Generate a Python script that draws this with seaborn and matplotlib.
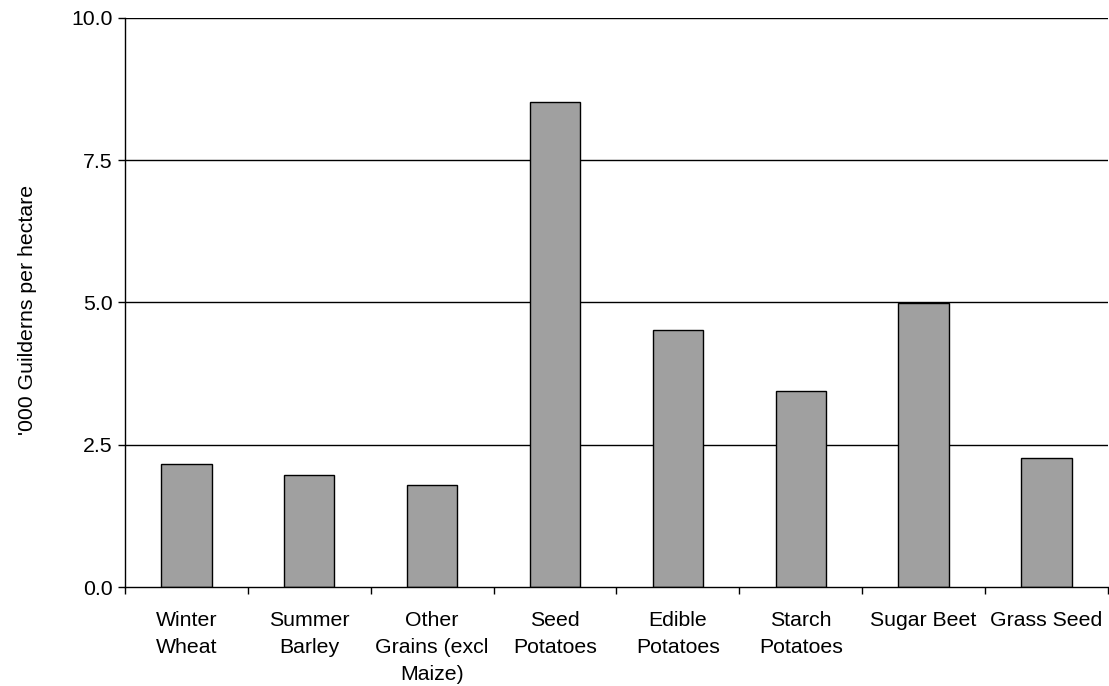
import matplotlib
matplotlib.use("Agg")
import matplotlib.pyplot as plt
import seaborn as sns
import pandas as pd
import numpy as np
from matplotlib.ticker import FixedLocator

categories = ["Winter\nWheat", "Summer\nBarley", "Other\nGrains (excl\nMaize)", "Seed\nPotatoes",
              "Edible\nPotatoes", "Starch\nPotatoes", "Sugar Beet", "Grass Seed"]
values = [2.17, 1.96, 1.80, 8.53, 4.52, 3.44, 4.99, 2.26]
y_ticks = [0.0, 2.5, 5.0, 7.5, 10.0]
y_label = "'000 Guilderns per hectare"

sns.set_style("white")
plt.rcParams['font.family'] = ['Liberation Sans', 'DejaVu Sans']
plt.rcParams['text.color'] = 'black'
plt.rcParams['axes.labelcolor'] = 'black'
plt.rcParams['xtick.color'] = 'black'
plt.rcParams['ytick.color'] = 'black'

FS = 15.3
df = pd.DataFrame({"cat": categories, "val": values})
fig = plt.figure(figsize=(11.09, 6.86), dpi=100)
ax = fig.add_axes([0.1127, 0.1443, 0.8863, 0.8295])

for y in y_ticks[1:]:
    ax.axhline(y, color="black", lw=1.0, zorder=0)

sns.barplot(data=df, x="cat", y="val", color="#a0a0a0", saturation=1, width=0.41,
            edgecolor="black", linewidth=1.0, ax=ax, zorder=2)

ax.set_xlim(-0.5, len(categories) - 0.5)
ax.set_ylim(0, 10)
ax.set_yticks(y_ticks)
ax.set_yticklabels([f"{v:.1f}" for v in y_ticks], fontsize=FS, color="black")
ax.set_ylabel(y_label, fontsize=FS, color="black")
ax.yaxis.set_label_coords(-0.0895, 0.487)
ax.set_xlabel("")

n = len(categories)
ax.xaxis.set_major_locator(FixedLocator(np.arange(-0.5, n, 1.0)))
ax.xaxis.set_minor_locator(FixedLocator(np.arange(n)))
ax.set_xticklabels([""] * (n + 1))
ax.set_xticklabels(categories, minor=True, fontsize=FS, color="black", linespacing=1.53)
ax.tick_params(axis="x", which="major", direction="out", length=5, width=1, color="black", bottom=True)
ax.tick_params(axis="x", which="minor", length=0, pad=17)
ax.tick_params(axis="y", direction="out", length=5, width=1, color="black", left=True, pad=4)

for s in ["top", "right"]:
    ax.spines[s].set_visible(False)
for s in ["left", "bottom"]:
    ax.spines[s].set_color("black")
    ax.spines[s].set_linewidth(1.0)

fig.savefig("out.png", dpi=100, facecolor="white")
